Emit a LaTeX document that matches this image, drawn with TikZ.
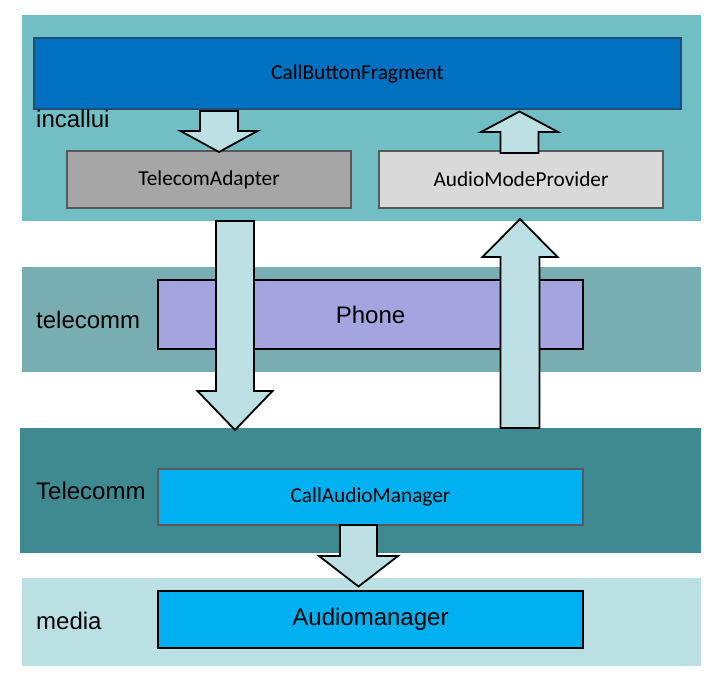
\documentclass[tikz,border=0pt]{standalone}
\usepackage{fontspec}
\setmainfont{Liberation Sans}
\newfontfamily\calfont{Carlito}
\definecolor{bandA}{HTML}{71BFC4}
\definecolor{bandB}{HTML}{78AEB2}
\definecolor{bandC}{HTML}{3E8A90}
\definecolor{bandD}{HTML}{BBE0E3}
\definecolor{arrfill}{HTML}{BCE0E3}
\definecolor{cbffill}{HTML}{0070C0}
\definecolor{cbfdraw}{HTML}{1F4E79}
\definecolor{tafill}{HTML}{A6A6A6}
\definecolor{ampfill}{HTML}{D9D9D9}
\definecolor{grayline}{HTML}{595959}
\definecolor{phonefill}{HTML}{A4A4E0}
\definecolor{cyanfill}{HTML}{00B0F0}
\newcommand\blockarr[6]{%
  \draw[arr] ({#1-#5},#2) -- ({#1+#5},#2) -- ({#1+#5},#3) -- ({#1+#6},#3) -- (#1,#4) -- ({#1-#6},#3) -- ({#1-#5},#3) -- cycle;}
\begin{document}
\begin{tikzpicture}[x=1pt,y=-1pt,
  box/.style={inner sep=0pt, line width=1.4pt, font=\calfont\fontsize{21.3}{25}\selectfont},
  abox/.style={inner sep=0pt, line width=1.6pt, draw=black, font=\fontsize{24}{28}\selectfont},
  lbl/.style={inner sep=0pt, anchor=west, font=\fontsize{24}{28}\selectfont},
  arr/.style={fill=arrfill, draw=black, line width=1.8pt, line join=miter}]
\path[use as bounding box, fill=white] (0,0) rectangle (723,679);
% bands
\fill[bandA] (22,15) rectangle (701,221);
\fill[bandB] (22,267) rectangle (701,372);
\fill[bandC] (20,428) rectangle (701,553);
\fill[bandD] (22,578) rectangle (701,666);
% boxes
\node[box, fill=cbffill, draw=cbfdraw, minimum width=647pt, minimum height=71pt] (cbf) at (357.5,73.5) {\raisebox{-1.5pt}{CallButtonFragment}};
\node[box, fill=tafill, draw=grayline, minimum width=284pt, minimum height=57pt] (ta) at (209,179.5) {\raisebox{-1pt}{TelecomAdapter}};
\node[box, fill=ampfill, draw=grayline, minimum width=284pt, minimum height=57pt] (amp) at (521,179.5) {\raisebox{-1pt}{AudioModeProvider}};
\node[abox, fill=phonefill, minimum width=425pt, minimum height=69pt] (phone) at (370.5,314.5) {Phone};
\node[box, fill=cyanfill, draw=grayline, minimum width=425pt, minimum height=56pt] (cam) at (370.5,497) {CallAudioManager};
\node[abox, fill=cyanfill, minimum width=425pt, minimum height=57pt] (am) at (370.5,619.5) {\raisebox{-2pt}{Audiomanager}};
% labels
\node[lbl] (l1) at (36,119) {incallui};
\node[lbl] (l2) at (36,320) {telecomm};
\node[lbl] (l3) at (36,491) {Telecomm};
\node[lbl] (l4) at (36,621) {media};
% arrows
\blockarr{219}{111}{131}{152}{19}{38.5}
\blockarr{519.5}{153}{132}{111.5}{19}{38.5}
\blockarr{235}{221}{391}{430}{19}{37.5}
\blockarr{520}{428}{257}{219}{19.5}{37.5}
\blockarr{358.5}{525}{556}{586.5}{18.5}{39.5}
\end{tikzpicture}
\end{document}
